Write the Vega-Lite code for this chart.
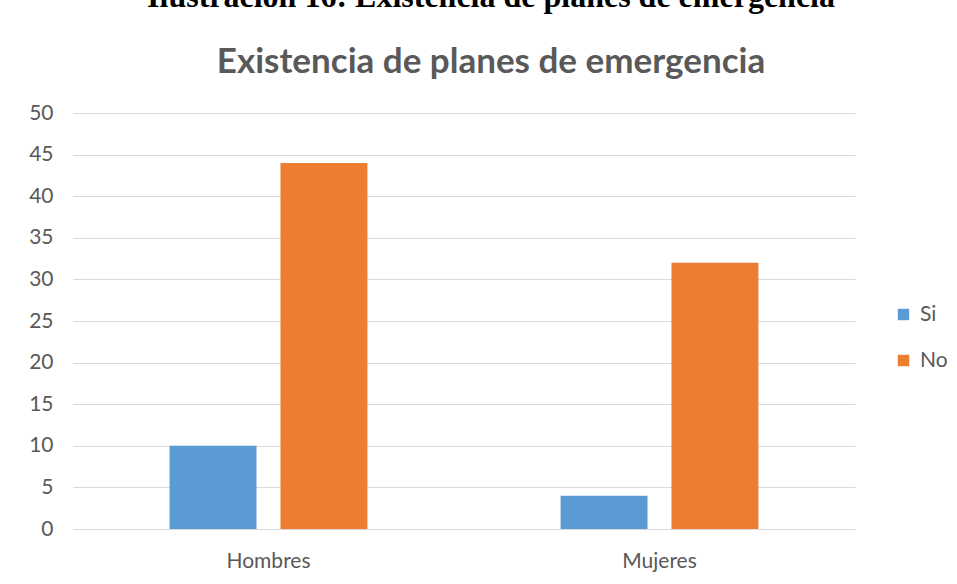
{
  "$schema": "https://vega.github.io/schema/vega-lite/v6.json",
  "width": 782,
  "height": 416,
  "autosize": {"type": "none"},
  "padding": {"left": 73, "top": 113, "right": 102, "bottom": 55},
  "background": "white",
  "title": {
    "text": "Ilustración 16: Existencia de planes de emergencia",
    "subtitle": "Existencia de planes de emergencia",
    "anchor": "middle",
    "frame": "group",
    "dx": 27,
    "font": "Liberation Serif",
    "fontSize": 32,
    "fontWeight": "bold",
    "color": "black",
    "subtitleFont": "Lato",
    "subtitleFontSize": 35,
    "subtitleFontWeight": "bold",
    "subtitleColor": "#595959",
    "subtitlePadding": 31,
    "offset": 21
  },
  "data": {
    "values": [
      {"grupo": "Hombres", "respuesta": "Si", "valor": 10},
      {"grupo": "Hombres", "respuesta": "No", "valor": 44},
      {"grupo": "Mujeres", "respuesta": "Si", "valor": 4},
      {"grupo": "Mujeres", "respuesta": "No", "valor": 32}
    ]
  },
  "mark": {"type": "bar"},
  "encoding": {
    "x": {
      "field": "grupo",
      "type": "nominal",
      "sort": ["Hombres", "Mujeres"],
      "scale": {"paddingInner": 0.494, "paddingOuter": 0.247},
      "axis": {
        "title": null,
        "labelAngle": 0,
        "ticks": false,
        "domain": false,
        "labelFont": "Lato",
        "labelFontSize": 21,
        "labelColor": "#595959",
        "labelPadding": 21
      }
    },
    "xOffset": {
      "field": "respuesta",
      "type": "nominal",
      "sort": ["Si", "No"],
      "scale": {"paddingInner": 0.216, "paddingOuter": 0}
    },
    "y": {
      "field": "valor",
      "type": "quantitative",
      "scale": {"domain": [0, 50], "nice": false},
      "axis": {
        "title": null,
        "values": [0, 5, 10, 15, 20, 25, 30, 35, 40, 45, 50],
        "domain": false,
        "ticks": false,
        "gridColor": "#d9d9d9",
        "gridWidth": 1,
        "labelFont": "Lato",
        "labelFontSize": 21,
        "labelColor": "#595959",
        "labelPadding": 20
      }
    },
    "color": {
      "field": "respuesta",
      "type": "nominal",
      "sort": ["Si", "No"],
      "scale": {"domain": ["Si", "No"], "range": ["#5b9bd5", "#ed7d31"]},
      "legend": {
        "title": null,
        "orient": "none",
        "legendX": 820,
        "legendY": 191,
        "symbolType": "square",
        "symbolSize": 130,
        "symbolStrokeWidth": 0,
        "labelFont": "Lato",
        "labelFontSize": 21,
        "labelColor": "#595959",
        "rowPadding": 24,
        "labelOffset": 6
      }
    }
  },
  "config": {"view": {"stroke": null}}
}
